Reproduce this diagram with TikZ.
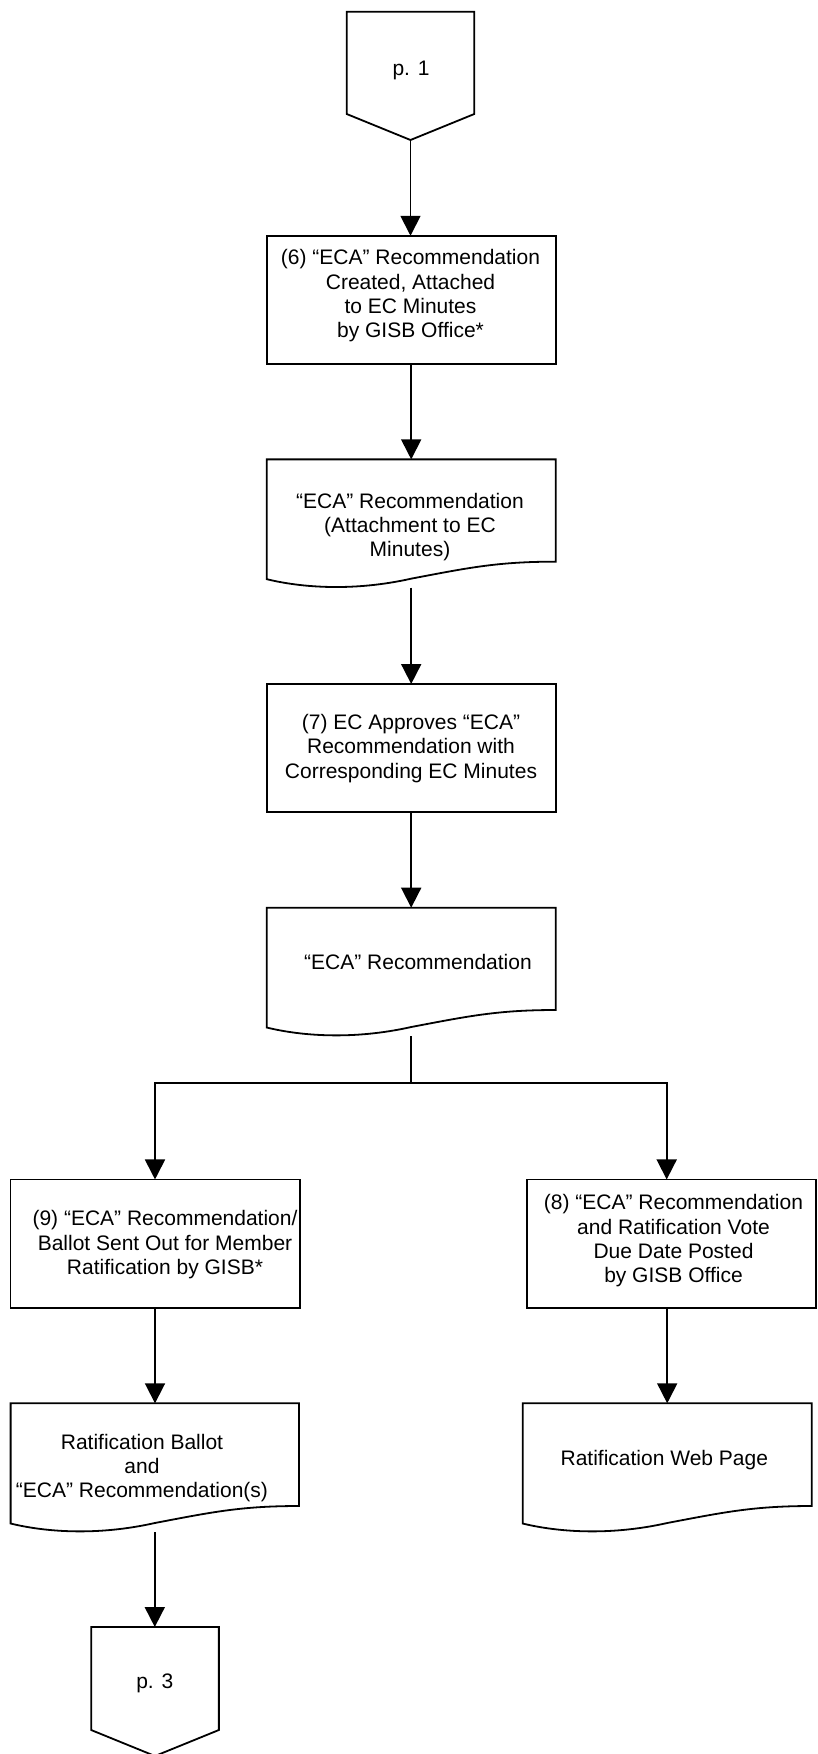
\documentclass[tikz,border=0pt]{standalone}
\usepackage{fontspec}
\setmainfont{Liberation Sans}
\usetikzlibrary{arrows.meta,calc}
\tikzset{
  lw/.style={line width=1.8pt},
  shp/.style={inner sep=0pt, outer sep=0pt, minimum width=289pt, minimum height=128.3pt},
  procbox/.style={shp, draw, lw},
  txt/.style={font=\fontsize{21}{24.3}\selectfont, align=center, inner sep=0pt},
  arr/.style={lw, -{Triangle[width=20pt,length=20pt]}},
  conn/.style={lw},
}
\newcommand\docoutline[1]{\draw[lw] ($(#1.south east)+(0,26)$) -- (#1.north east) -- (#1.north west) -- ($(#1.south west)+(0,8.5)$) .. controls ($(#1.south west)!0.12!(#1.south east)$) and ($(#1.south west)!0.3!(#1.south east)+(0,-4)$) .. ($(#1.south west)!0.5!(#1.south east)+(0,9)$) .. controls ($(#1.south west)!0.7!(#1.south east)+(0,20)$) and ($(#1.south west)!0.8!(#1.south east)+(0,26)$) .. ($(#1.south east)+(0,26)$) -- cycle;}
\newcommand\pageoutline[1]{\draw[lw] (#1.north west) -- (#1.north east) -- ($(#1.south east)+(0,26)$) -- (#1.south) -- ($(#1.south west)+(0,26)$) -- cycle;}
\begin{document}
\begin{tikzpicture}[x=1pt,y=1pt]
\useasboundingbox (0,0) rectangle (817,-1754);
% shapes
\node[shp, minimum width=127.6pt, minimum height=128.3pt] (p1) at (410.5,-75.85) {};
\node[procbox] (b6) at (411.2,-299.9) {};
\node[shp] (d1) at (411.2,-523.5) {};
\node[procbox] (b7) at (411.2,-748.15) {};
\node[shp] (d2) at (411.2,-971.85) {};
\node[procbox, minimum width=289.2pt] (b9) at (155,-1243.6) {};
\node[procbox, minimum width=288.4pt] (b8) at (671.5,-1243.6) {};
\node[shp, minimum width=288.4pt, minimum height=128.7pt] (d3) at (154.8,-1467.65) {};
\node[shp, minimum height=128.7pt] (d4) at (667.2,-1467.65) {};
\node[shp, minimum width=127.7pt, minimum height=129pt] (p3) at (155,-1691.5) {};
\pageoutline{p1}
\docoutline{d1}
\docoutline{d2}
\docoutline{d3}
\docoutline{d4}
\pageoutline{p3}
% texts
\node[txt] (t1) at (411,-70.7) {p. 1};
\node[txt] (t6) at (410.5,-296) {(6) “ECA” Recommendation\\Created, Attached\\to EC Minutes\\by GISB Office*};
\node[txt] (td1) at (410,-527) {“ECA” Recommendation\\(Attachment to EC\\Minutes)};
\node[txt] (t7) at (411,-748.5) {(7) EC Approves “ECA”\\Recommendation with\\Corresponding EC Minutes};
\node[txt] (td2) at (418,-961.7) {“ECA” Recommendation};
\node[txt] (t9) at (165,-1244.8) {(9) “ECA” Recommendation/\\Ballot Sent Out for Member\\Ratification by GISB*};
\node[txt] (t8) at (673.5,-1240.8) {(8) “ECA” Recommendation\\and Ratification Vote\\Due Date Posted\\by GISB Office};
\node[txt] (td3) at (142,-1468) {Ratification Ballot\\and\\“ECA” Recommendation(s)};
\node[txt] (td4) at (664.3,-1460.5) {Ratification Web Page};
\node[txt] (t3) at (154.8,-1683.7) {p. 3};
% connectors
\draw[arr] (p1.south) -- (p1.south |- b6.north);
\draw[arr] (b6.south) -- (d1.north);
\draw[arr] (d1.south) -- (b7.north);
\draw[arr] (b7.south) -- (d2.north);
\coordinate (split) at (411.5,-1083.3);
\coordinate (rt) at (666.7,-1083.3);
\draw[conn] (d2.south) -- (d2.south |- split);
\draw[arr] (split) -| (b9.north);
\draw[arr] (split) -- (rt) -- (rt |- b8.north);
\draw[arr] (b9.south) -- (b9.south |- d3.north);
\draw[arr] (d4.north |- b8.south) -- (d4.north);
\draw[arr] (d3.south) -- (d3.south |- p3.north);
\end{tikzpicture}
\end{document}
